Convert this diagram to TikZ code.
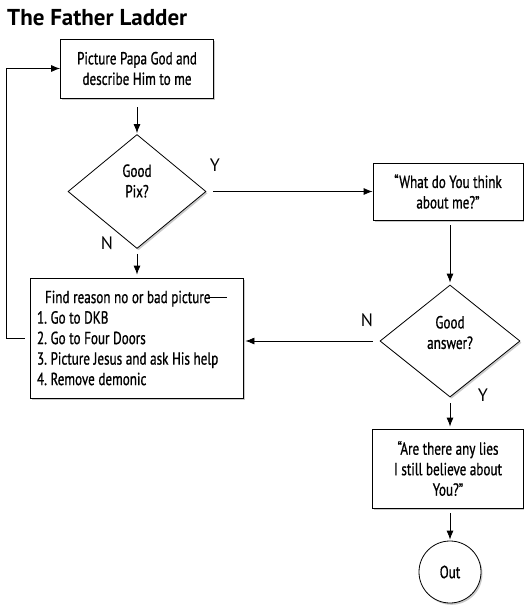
\documentclass[tikz,border=0pt]{standalone}
\usepackage{fontspec}
\setmainfont{PT Sans}
\newfontfamily\bodyfont[FakeStretch=0.75,FakeBold=0.8]{PT Sans}
\usetikzlibrary{shapes.geometric,arrows.meta,shadows}
\newcommand{\longdash}{\rule[5pt]{17pt}{0.8pt}}
\newcommand{\bodyfontsize}{\bodyfont\fontsize{17.5}{20.5}\selectfont}
\newcommand{\tightspace}{\spaceskip=3.6pt plus 1pt minus 0.5pt\xspaceskip=3.6pt plus 1pt minus 0.5pt\relax}
\begin{document}
\begin{tikzpicture}[x=1pt,y=-1pt,
  shad/.style={drop shadow={shadow xshift=1.5pt,shadow yshift=-1.8pt,opacity=0.35,fill=black!60}},
  box/.style={draw,line width=0.8pt,fill=white,shad,align=center,inner sep=0pt,
    font=\bodyfontsize},
  dia/.style={draw,diamond,line width=0.8pt,fill=white,shad,inner sep=0pt},
  txt/.style={align=center,inner sep=0pt,font=\bodyfontsize},
  lab/.style={inner sep=0pt,font=\fontsize{18}{18}\selectfont},
  arr/.style={line width=0.8pt,-{Latex[length=9pt,width=7pt]}}]
\useasboundingbox (0,0) rectangle (524,608);
\node[anchor=base west,inner sep=0pt,font=\bfseries\fontsize{23}{26}\selectfont] (title) at (7,25) {The Father Ladder};
\node[box,minimum width=153pt,minimum height=59pt] (box1) at (137,68.5) {Picture Papa God and\\describe Him to me};
\node[dia,minimum width=138pt,minimum height=114pt] (d1) at (137,191.5) {};
\node[txt] (d1t) at (137,181) {Good\\Pix?};
\node[box,minimum width=150pt,minimum height=57pt] (box2) at (448,191.5) {\textquotedblleft What do You think\\about me?\textquotedblright};
\node[box,minimum width=213pt,minimum height=120pt,text width=199pt,inner xsep=7pt,align=left] (box3) at (136.5,338) {\tightspace\hspace*{8pt}Find reason no or bad picture\longdash\\1. Go to DKB\\2. Go to Four Doors\\3. Picture Jesus and ask His help\\4. Remove demonic};
\node[dia,minimum width=140pt,minimum height=112pt] (d2) at (450,341) {};
\node[txt] (d2t) at (450,332.5) {Good\\answer?};
\node[box,minimum width=151pt,minimum height=79pt] (box4) at (448,468.5) {\textquotedblleft Are there any lies\\I still believe about\\You?\textquotedblright};
\node[draw,circle,line width=0.8pt,fill=white,shad,minimum size=62pt,inner sep=0pt,font=\bodyfontsize] (out) at (450,572) {Out};
\node[lab] (y1) at (215,165) {Y};
\node[lab] (n1) at (107,243) {N};
\node[lab] (n2) at (367,320) {N};
\node[lab] (y2) at (483,395) {Y};
\draw[arr,shorten <=9pt,shorten >=1pt] (box1.south) -- (d1.north);
\draw[arr,shorten <=7pt] (d1.east) -- (box2.west |- d1.east);
\draw[arr,shorten <=5pt,shorten >=3pt] (d1.south) -- (box3.north -| d1.south);
\draw[arr,shorten <=5pt,shorten >=2pt] (d2.north |- box2.south) -- (d2.north);
\draw[arr,shorten <=7pt,shorten >=2pt] (d2.west) -- (box3.east |- d2.west);
\draw[arr,shorten <=6pt,shorten >=2pt] (d2.south) -- (d2.south |- box4.north);
\draw[arr,shorten <=5pt,shorten >=1pt] (out.north |- box4.south) -- (out.north);
\draw[arr,shorten <=5pt] (box3.west) -- ++(-23,0) |- (box1.west);
\end{tikzpicture}
\end{document}
